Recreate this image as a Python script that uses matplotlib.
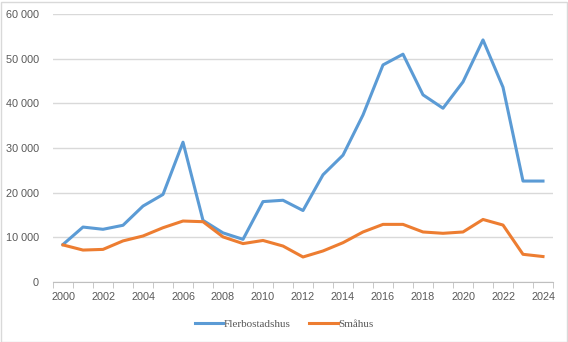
import matplotlib.pyplot as plt
from matplotlib.patches import Rectangle
from matplotlib.ticker import FuncFormatter, MultipleLocator
import numpy as np

years = list(range(2000, 2025))
flerbostadshus = [8400, 12300, 11800, 12700, 17000, 19600, 31300, 13800, 11000, 9550,
                  18000, 18300, 16000, 24000, 28400, 37400, 48600, 51000, 41900, 38900,
                  44800, 54200, 43600, 22600, 22600]
smahus = [8300, 7150, 7300, 9200, 10300, 12150, 13650, 13500, 10100, 8600,
          9300, 8050, 5600, 6950, 8800, 11200, 12900, 12900, 11200, 10900,
          11200, 14000, 12750, 6200, 5700]

plt.rcParams['font.family'] = ['Liberation Sans', 'DejaVu Sans']

fig = plt.figure(figsize=(5.68, 3.42), dpi=100)
ax = fig.add_axes([53 / 568, 1 - 282 / 342, 500 / 568, 268 / 342])

ax.plot(years, flerbostadshus, color='#5B9BD5', lw=2.2, label='Flerbostadshus', solid_joinstyle='round')
ax.plot(years, smahus, color='#ED7D31', lw=2.2, label='Småhus', solid_joinstyle='round')

ax.set_xlim(1999.5, 2024.5)
ax.set_ylim(0, 60000)
ax.yaxis.set_major_locator(MultipleLocator(10000))
ax.yaxis.set_major_formatter(FuncFormatter(lambda v, p: f"{int(v):,}".replace(',', ' ')))
ax.set_xticks(years[::2])
ax.set_xticks(np.arange(1999.5, 2025, 1), minor=True)
ax.grid(axis='y', color='#D9D9D9', lw=1)
ax.set_axisbelow(True)
for s in ['left', 'right', 'top']:
    ax.spines[s].set_visible(False)
ax.spines['bottom'].set_color('#BFBFBF')
ax.tick_params(axis='y', length=0, pad=10, labelsize=7.8, labelcolor='#595959')
ax.tick_params(axis='x', which='major', length=0, pad=7, labelsize=7.8, labelcolor='#595959')
ax.tick_params(axis='x', which='minor', length=4, color='#BFBFBF')

leg = fig.legend(loc='center', bbox_to_anchor=(0.5, 1 - 324 / 342), ncol=2, frameon=False,
                 prop={'family': ['Liberation Serif', 'DejaVu Serif'], 'size': 8},
                 handlelength=2.6, handletextpad=0.05, columnspacing=1.6,
                 labelcolor='#595959')

fig.patches.append(Rectangle((0.5 / 568, 0.5 / 342), 566 / 568, 340 / 342,
                             transform=fig.transFigure, fill=False, ec='#D9D9D9', lw=1))

fig.savefig('out.png', dpi=100)
